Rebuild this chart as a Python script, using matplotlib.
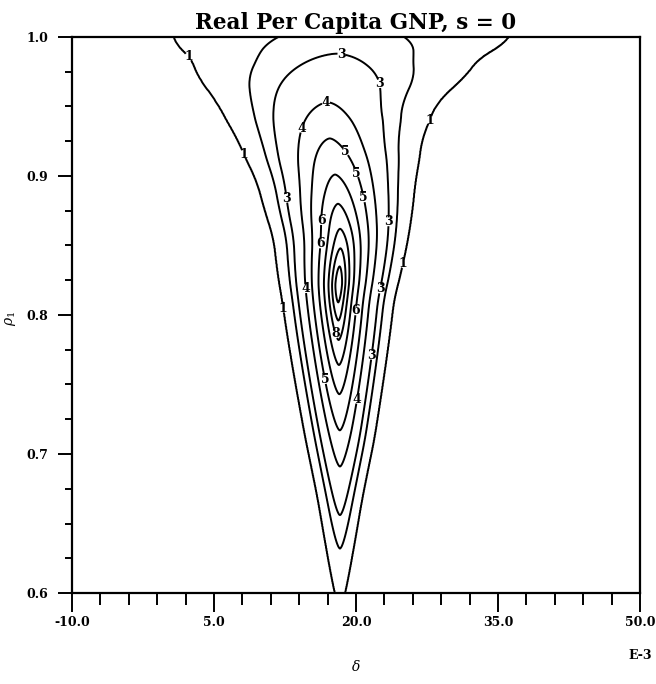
import numpy as np
import matplotlib.pyplot as plt
from matplotlib.ticker import FixedLocator, MultipleLocator

plt.rcParams['font.family'] = ['DejaVu Serif']
plt.rcParams['mathtext.fontset'] = 'dejavuserif'

# contour levels and how far (in rho) each one reaches from the mode
levels = [1, 2, 3, 4, 5, 6, 7, 8, 9, 10]
reach = [0.232, 0.190, 0.166, 0.131, 0.105, 0.079, 0.058, 0.040, 0.026, 0.013]
peak_value = 10.8
mode_rho = 0.822
shape_power = 1.6   # contours are a bit pointed at top and bottom

# ridge: centre of the contours (delta, E-3) and
# their spread in delta per unit of rho, at several rho values
ridge_rho = [0.60, 0.667, 0.71, 0.812, 0.855, 0.896, 0.927, 0.953, 0.989, 1.0]
ridge_center = [18.3, 18.3, 18.3, 18.1, 18.4, 17.9, 17.2, 16.9, 17.9, 18.6]
ridge_spread = [12.0, 15.9, 19.6, 25.6, 31.4, 40.1, 51.5, 68.3, 116.0, 158.0]

# where the contour numbers sit (delta, rho)
label_spots = [(3.0, 0.992), (8.5, 0.917), (27.3, 0.942), (25.2, 0.836),
               (12.7, 0.805), (18.5, 0.989), (22.3, 0.966), (16.9, 0.949),
               (14.8, 0.933), (18.8, 0.917), (19.7, 0.901), (12.7, 0.884),
               (21.3, 0.885), (23.6, 0.867), (16.0, 0.868), (16.5, 0.851),
               (14.8, 0.819), (22.3, 0.819), (19.9, 0.803), (18.1, 0.787),
               (21.7, 0.771), (16.4, 0.753), (20.4, 0.739)]

xticks = [-10, 5, 20, 35, 50]
xticklabels = ['-10.0', '5.0', '20.0', '35.0', '50.0']
yticks = [0.6, 0.7, 0.8, 0.9, 1.0]
yticklabels = ['0.6', '0.7', '0.8', '0.9', '1.0']

# surface on a grid
rho = np.linspace(0.58, 1.02, 900)
delta = np.linspace(-10.5, 50.5, 1220)
k = 41
kernel = np.ones(k) / k
cx = np.convolve(np.pad(np.interp(rho, ridge_rho, ridge_center), k // 2, mode='edge'),
                 kernel, mode='valid')
w = np.exp(np.convolve(np.pad(np.log(np.interp(rho, ridge_rho, ridge_spread)), k // 2, mode='edge'),
                       kernel, mode='valid'))
D, R = np.meshgrid(delta, rho)
p = shape_power
dist = (np.abs(R - mode_rho) ** p + np.abs((D - cx[:, None]) / w[:, None]) ** p) ** (1 / p)
Z = np.interp(dist, [0] + reach[::-1] + [1.0], [peak_value] + levels[::-1] + [0])

fig = plt.figure(figsize=(6.56, 6.84), dpi=100)
ax = fig.add_axes([0.1098, 0.133, 0.8659, 0.813])

cs = ax.contour(D, R, Z, levels=levels, colors='black', linewidths=1.4)
texts = ax.clabel(cs, fmt='%d', fontsize=9, inline=True, inline_spacing=0, manual=label_spots)
for t in texts:
    t.set_fontweight('bold')
    t.set_rotation(0)

ax.set_xlim(-10, 50)
ax.set_ylim(0.6, 1.0)

ax.xaxis.set_major_locator(FixedLocator(xticks))
ax.set_xticklabels(xticklabels, fontsize=9, fontweight='bold')
ax.xaxis.set_minor_locator(FixedLocator(np.arange(-10, 51, 3)))
ax.yaxis.set_major_locator(FixedLocator(yticks))
ax.set_yticklabels(yticklabels, fontsize=9, fontweight='bold')
ax.yaxis.set_minor_locator(MultipleLocator(0.025))

ax.tick_params(axis='x', which='major', direction='out', length=13.5, width=1.4, pad=3)
ax.tick_params(axis='x', which='minor', direction='out', length=8.5, width=1.4)
ax.tick_params(axis='y', which='major', direction='out', length=10, width=1.4, pad=7)
ax.tick_params(axis='y', which='minor', direction='out', length=5, width=1.4)
for s in ax.spines.values():
    s.set_linewidth(1.6)

ax.set_title('Real Per Capita GNP, s = 0', fontsize=15.5, fontweight='bold', pad=6)
fig.text(0.9756, 0.042, 'E-3', ha='center', va='center', fontsize=9, fontweight='bold')
fig.text(0.543, 0.025, r'$\delta$', ha='center', va='center', fontsize=10)
fig.text(0.016, 0.535, r'$\rho_1$', ha='center', va='center', fontsize=10, rotation=90)

fig.savefig('out.png', dpi=100)
